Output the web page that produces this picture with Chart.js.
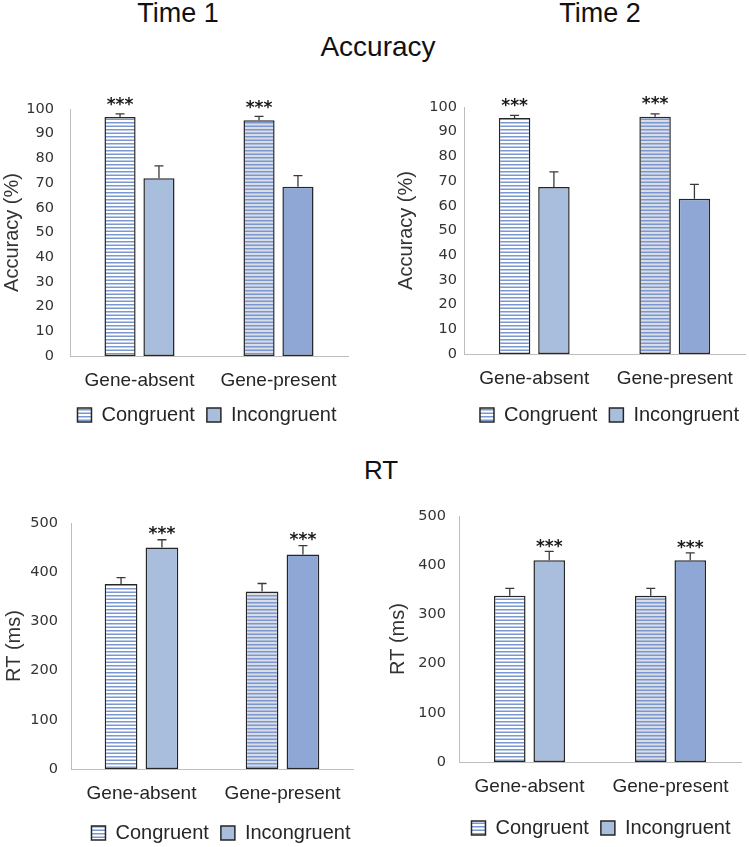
<!DOCTYPE html>
<html>
<head>
<meta charset="utf-8">
<script src="https://cdn.jsdelivr.net/npm/chart.js@4.4.1/dist/chart.umd.min.js"></script>
<style>
  body { margin: 0; background: #fff; }
  #page { position: relative; width: 749px; height: 847px; overflow: hidden; background: #fff; }
  .ttl { position: absolute; width: 200px; text-align: center; font-family: 'Liberation Sans', Arial, sans-serif; color: #111; line-height: 1; white-space: nowrap; }
  canvas { position: absolute; }
</style>
</head>
<body>
<div id="page">
  <div class="ttl" style="left:78px; top:0px; font-size:27px;">Time 1</div>
  <div class="ttl" style="left:500px; top:0px; font-size:27px;">Time 2</div>
  <div class="ttl" style="left:278px; top:33px; font-size:28px;">Accuracy</div>
  <div class="ttl" style="left:281px; top:457px; font-size:26px;">RT</div>
  <canvas id="accT1" width="370" height="355" style="left:0px; top:80px;"></canvas>
  <canvas id="accT2" width="379" height="355" style="left:370px; top:80px;"></canvas>
  <canvas id="rtT1" width="370" height="363" style="left:0px; top:490px;"></canvas>
  <canvas id="rtT2" width="379" height="358" style="left:370px; top:490px;"></canvas>
</div>
<script>
// dados
const categories = ['Gene-absent', 'Gene-present'];
const seriesNames = ['Congruent', 'Incongruent'];

// Accuracy (%) - Time 1
const accT1Cong = [96.8, 95.4];
const accT1CongErr = [1.2, 1.6];
const accT1Incong = [72, 68.5];
const accT1IncongErr = [5, 4.5];

// Accuracy (%) - Time 2
const accT2Cong = [95.5, 96.1];
const accT2CongErr = [1.1, 1.1];
const accT2Incong = [67.6, 62.9];
const accT2IncongErr = [6.1, 5.8];

// RT (ms) - Time 1
const rtT1Cong = [376, 361];
const rtT1CongErr = [13, 16];
const rtT1Incong = [450, 436];
const rtT1IncongErr = [16, 18];

// RT (ms) - Time 2
const rtT2Cong = [338, 338];
const rtT2CongErr = [15, 15];
const rtT2Incong = [410, 410];
const rtT2IncongErr = [18, 15];

// significance marks
const accStars = ['***', '***'];
const rtStars = ['***', '***'];

// axis ranges
const accAxis = { min: 0, max: 100, step: 10, title: 'Accuracy (%)' };
const rtAxis = { min: 0, max: 500, step: 100, title: 'RT (ms)' };

const FONT = "'Liberation Sans', Arial, sans-serif";
const INK = '#262626';

// padrão listrado (Congruent)
const makeStripes = (bg, line) => {
    const c = document.createElement('canvas');
    c.width = 4; c.height = 7;
    const g = c.getContext('2d');
    g.fillStyle = bg;
    g.fillRect(0, 0, 4, 7);
    g.fillStyle = line;
    g.fillRect(0, 0, 4, 1.5);
    g.fillRect(0, 3.5, 4, 1.5);
    return g.createPattern(c, 'repeat');
};

const stripeWhite = makeStripes('#ffffff', '#7b97cf');
const stripeGray = makeStripes('#dadde5', '#7b97cf');

// barras de erro + asteriscos
const errorBarPlugin = {
    id: 'errorBars',
    afterDatasetsDraw(chart) {
        const ctx = chart.ctx;
        const yScale = chart.scales.y;
        ctx.save();
        chart.data.datasets.forEach((ds, i) => {
            const meta = chart.getDatasetMeta(i);
            meta.data.forEach((bar, j) => {
                const yTop = yScale.getPixelForValue(ds.data[j] + ds.errors[j]);
                ctx.strokeStyle = '#3a3a3a';
                ctx.lineWidth = 1.3;
                ctx.beginPath();
                ctx.moveTo(bar.x, bar.y);
                ctx.lineTo(bar.x, yTop);
                ctx.moveTo(bar.x - 4.5, yTop);
                ctx.lineTo(bar.x + 4.5, yTop);
                ctx.stroke();
                if (ds.stars && ds.stars[j]) {
                    ctx.font = "bold 17px 'DejaVu Sans', sans-serif";
                    ctx.fillStyle = '#1a1a1a';
                    ctx.textAlign = 'center';
                    ctx.textBaseline = 'alphabetic';
                    const m = ctx.measureText(ds.stars[j]);
                    const mid = (m.actualBoundingBoxAscent - m.actualBoundingBoxDescent) / 2;
                    ctx.fillText(ds.stars[j], bar.x, yTop - chart.options.starGap + mid);
                }
            });
        });
        ctx.restore();
    }
};

// centra a legenda na área do gráfico (mais um pequeno deslocamento)
const legendShift = {
    id: 'legendShift',
    afterLayout(chart) {
        const lg = chart.legend;
        const w = lg.right - lg.left;
        const c = (chart.chartArea.left + chart.chartArea.right) / 2 + (chart.options.legendDx || 0);
        lg.left = c - w / 2;
        lg.right = c + w / 2;
    }
};

const makeChart = (id, cfg) => {
    const ctx = document.getElementById(id).getContext('2d');
    return new Chart(ctx, {
        type: 'bar',
        data: {
            labels: categories,
            datasets: [{
                label: seriesNames[0],
                data: cfg.cong,
                errors: cfg.congErr,
                stars: cfg.starsOnCong ? cfg.stars : null,
                backgroundColor: [stripeWhite, stripeGray],
                borderColor: INK,
                borderWidth: 1.5,
                borderSkipped: false
            }, {
                label: seriesNames[1],
                data: cfg.incong,
                errors: cfg.incongErr,
                stars: cfg.starsOnCong ? null : cfg.stars,
                backgroundColor: ['#a8bedc', '#8ea7d5'],
                borderColor: INK,
                borderWidth: 1.5,
                borderSkipped: false
            }]
        },
        options: {
            responsive: false,
            animation: false,
            starGap: cfg.starGap,
            legendDx: cfg.legendDx,
            categoryPercentage: cfg.catPct,
            barPercentage: 0.8,
            layout: { padding: { top: cfg.padTop, right: cfg.padRight, left: 0, bottom: 0 } },
            plugins: {
                legend: {
                    position: 'bottom',
                    labels: {
                        boxWidth: 14,
                        boxHeight: 14,
                        padding: 12,
                        color: INK,
                        font: { family: FONT, size: 20 }
                    }
                },
                tooltip: { enabled: false }
            },
            scales: {
                x: {
                    grid: { display: false, drawTicks: false },
                    border: { display: true, color: '#bdbdbd', width: 1 },
                    ticks: { color: INK, padding: 13, font: { family: FONT, size: 19 } },
                    afterFit: (scale) => { scale.height = cfg.xHeight; }
                },
                y: {
                    min: cfg.axis.min,
                    max: cfg.axis.max,
                    grid: { display: false, drawTicks: false },
                    border: { display: true, color: '#bdbdbd', width: 1 },
                    ticks: {
                        stepSize: cfg.axis.step,
                        color: '#333',
                        padding: cfg.tickPad,
                        font: { family: "'DejaVu Sans', sans-serif", size: 14.5 }
                    },
                    title: {
                        display: true,
                        text: cfg.axis.title,
                        color: '#333',
                        padding: { top: cfg.titlePad, bottom: 0 },
                        font: { family: FONT, size: 20 }
                    },
                    afterFit: (scale) => { scale.width = cfg.yWidth; }
                }
            }
        },
        plugins: [errorBarPlugin, legendShift]
    });
};

makeChart('accT1', {
    cong: accT1Cong, congErr: accT1CongErr, incong: accT1Incong, incongErr: accT1IncongErr,
    stars: accStars, starsOnCong: true, axis: accAxis,
    padTop: 29, padRight: 22, yWidth: 70, titlePad: 0, tickPad: 16, xHeight: 37, catPct: 0.56, starGap: 12, legendDx: -2
});
makeChart('accT2', {
    cong: accT2Cong, congErr: accT2CongErr, incong: accT2Incong, incongErr: accT2IncongErr,
    stars: accStars, starsOnCong: true, axis: accAxis,
    padTop: 27, padRight: 4, yWidth: 94, titlePad: 24, tickPad: 7, xHeight: 39, catPct: 0.56, starGap: 13, legendDx: 5
});
makeChart('rtT1', {
    cong: rtT1Cong, congErr: rtT1CongErr, incong: rtT1Incong, incongErr: rtT1IncongErr,
    stars: rtStars, starsOnCong: false, axis: rtAxis,
    padTop: 33, padRight: 17, yWidth: 71, titlePad: 2, tickPad: 13, xHeight: 42, catPct: 0.58, starGap: 9, legendDx: 9
});
makeChart('rtT2', {
    cong: rtT2Cong, congErr: rtT2CongErr, incong: rtT2Incong, incongErr: rtT2IncongErr,
    stars: rtStars, starsOnCong: false, axis: rtAxis,
    padTop: 26, padRight: 8, yWidth: 89, titlePad: 16, tickPad: 13, xHeight: 44, catPct: 0.56, starGap: 8, legendDx: 1
});
</script>
</body>
</html>
